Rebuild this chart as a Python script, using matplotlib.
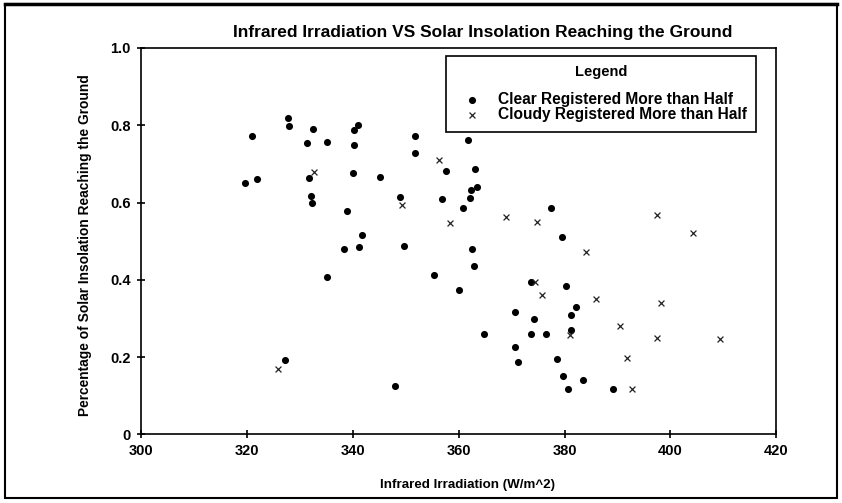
import matplotlib
matplotlib.use("Agg")
import matplotlib.pyplot as plt
from matplotlib.patches import Rectangle

plt.rcParams['font.family'] = ['Liberation Sans', 'DejaVu Sans']

# days where clear sky was registered more than half the time
clear_ir = [319.7, 322.0, 321.1, 327.9, 328.1, 332.5, 331.5, 335.1, 331.7, 332.2,
            332.4, 338.9, 338.3, 335.2, 341.0, 340.3, 340.2, 351.7, 361.7, 351.8,
            340.0, 345.1, 357.6, 363.2, 363.4, 362.4, 362.1, 349.0, 356.8, 360.9,
            377.5, 341.8, 341.2, 349.7, 362.5, 362.9, 355.4, 360.0, 373.6, 379.5,
            380.3, 382.1, 381.2, 370.7, 374.2, 364.8, 373.7, 376.6, 381.2, 370.7,
            371.3, 378.5, 379.7, 383.5, 380.7, 389.1, 327.3, 348.1]
clear_pct = [0.651, 0.661, 0.773, 0.819, 0.798, 0.791, 0.753, 0.758, 0.664, 0.617,
             0.599, 0.577, 0.479, 0.407, 0.800, 0.787, 0.749, 0.771, 0.761, 0.729,
             0.676, 0.665, 0.681, 0.687, 0.640, 0.633, 0.613, 0.614, 0.609, 0.586,
             0.585, 0.516, 0.486, 0.488, 0.481, 0.435, 0.412, 0.374, 0.394, 0.510,
             0.383, 0.330, 0.309, 0.317, 0.298, 0.260, 0.261, 0.260, 0.270, 0.227,
             0.187, 0.196, 0.152, 0.142, 0.118, 0.117, 0.193, 0.125]

# days where cloud cover was registered more than half the time
cloudy_ir = [332.7, 356.3, 349.3, 358.3, 369.0, 374.8, 374.4, 375.7, 397.5, 404.2,
             384.1, 385.9, 398.3, 390.4, 381.0, 397.5, 409.3, 391.7, 392.7, 326.0]
cloudy_pct = [0.678, 0.709, 0.594, 0.547, 0.563, 0.549, 0.395, 0.361, 0.569, 0.522,
              0.472, 0.350, 0.341, 0.280, 0.258, 0.250, 0.247, 0.198, 0.117, 0.169]

x_ticks = [300, 320, 340, 360, 380, 400, 420]
y_ticks = [0, 0.2, 0.4, 0.6, 0.8, 1.0]
y_tick_labels = ['0', '0.2', '0.4', '0.6', '0.8', '1.0']

fig = plt.figure(figsize=(8.42, 5.03), dpi=100)
ax = fig.add_axes([0.1669, 0.1362, 0.7553, 0.7684])

ax.scatter(clear_ir, clear_pct, s=26, c='black', marker='o', linewidths=0,
           label='Clear Registered More than Half')
ax.scatter(cloudy_ir, cloudy_pct, s=18, c='#222222', marker='x', linewidths=0.9,
           label='Cloudy Registered More than Half')

ax.set_xlim(300, 420)
ax.set_ylim(0, 1.0)
ax.set_xticks(x_ticks)
ax.set_yticks(y_ticks)
ax.set_yticklabels(y_tick_labels)
ax.tick_params(direction='inout', length=6, width=1.2, labelsize=10.5, pad=4)
for lab in ax.get_xticklabels() + ax.get_yticklabels():
    lab.set_fontweight('bold')
for sp in ax.spines.values():
    sp.set_linewidth(1.2)

ax.set_title('Infrared Irradiation VS Solar Insolation Reaching the Ground',
             fontsize=12.5, fontweight='bold', pad=8, x=0.5385)
ax.set_xlabel('Infrared Irradiation (W/m^2)', fontsize=9.6, fontweight='bold', labelpad=13)
ax.xaxis.set_label_coords(0.514, -0.115)
ax.set_ylabel('Percentage of Solar Insolation Reaching the Ground', fontsize=9.9,
              fontweight='bold')
ax.yaxis.set_label_coords(-0.077, 0.49)

leg = ax.legend(title='Legend', loc='upper right', bbox_to_anchor=(0.968, 0.98),
                fancybox=False, edgecolor='black', framealpha=1,
                prop={'size': 11.2, 'weight': 'bold'}, handletextpad=0.6,
                handlelength=2.1, borderpad=0.62, labelspacing=0.0,
                borderaxespad=0)
leg.get_title().set_fontsize(10.5)
leg.get_title().set_fontweight('bold')
leg.get_frame().set_linewidth(1.2)
# extra gap between the title and the entries
leg._legend_box.sep = 9

# frame around the whole page
fig.patches.append(Rectangle((0.006, 0.01), 0.988, 0.982, transform=fig.transFigure,
                             fill=False, edgecolor='black', linewidth=1.5))
fig.add_artist(plt.Line2D([0.006, 0.994], [0.992, 0.992], transform=fig.transFigure,
                          color='black', linewidth=2.5))

fig.savefig('out.png', dpi=100)
